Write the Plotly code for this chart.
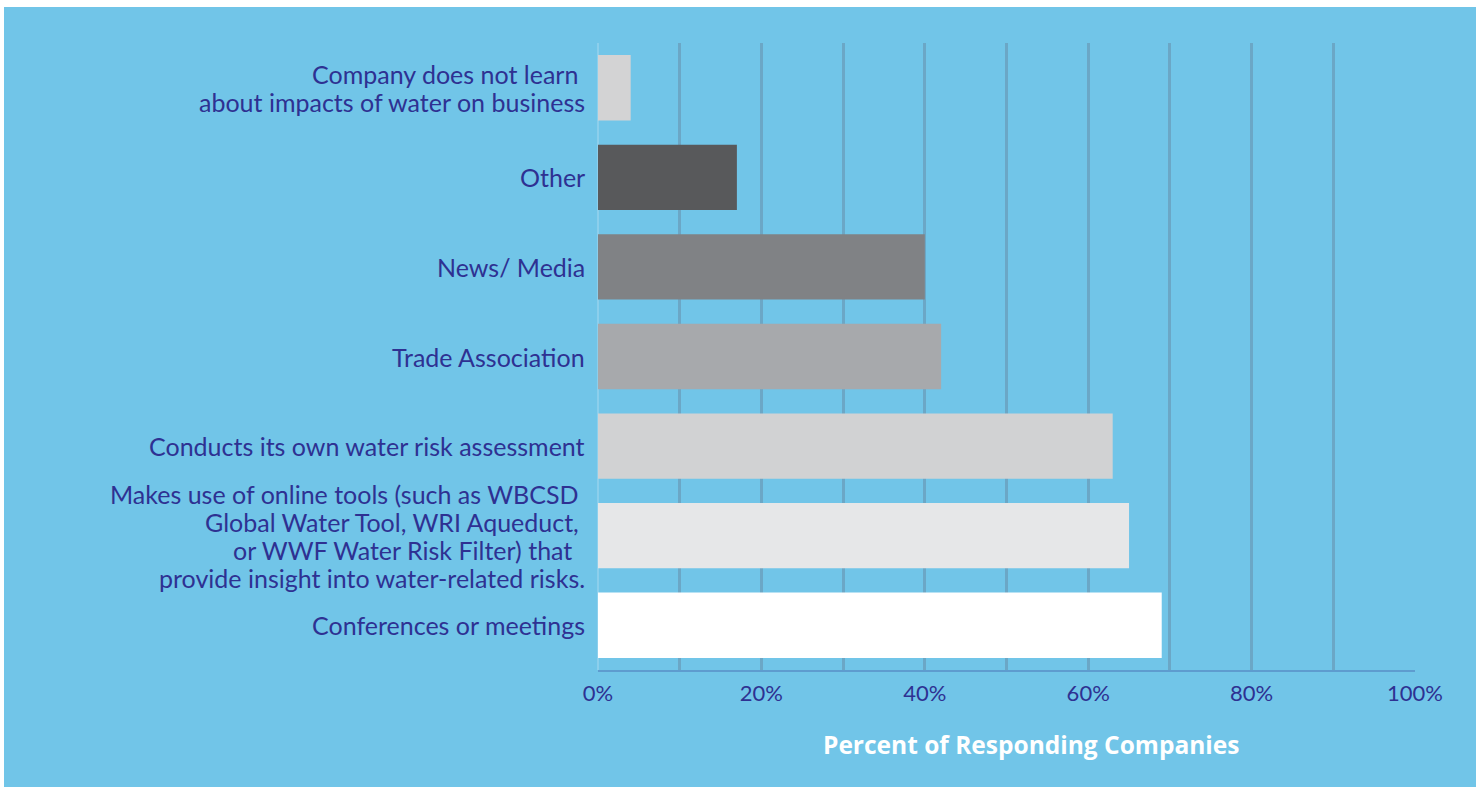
import plotly.graph_objects as go

# Survey responses: how companies learn about water impacts on their business
categories = [
    "Company does not learn",
    "Other",
    "News/ Media",
    "Trade Association",
    "Conducts its own water risk assessment",
    "Makes use of online tools",
    "Conferences or meetings",
]
# category labels as drawn, line by line
label_lines = [
    ["Company does not learn\u00a0", "about impacts of water on business"],
    ["Other"],
    ["News/ Media"],
    ["Trade Association"],
    ["Conducts its own water risk assessment"],
    ["Makes use of online tools (such as WBCSD\u00a0",
     "Global Water Tool, WRI Aqueduct,\u00a0",
     "or WWF Water Risk Filter) that\u00a0\u00a0",
     "provide insight into water-related risks."],
    ["Conferences or meetings"],
]
percent = [4, 17, 40, 42, 63, 65, 69]
bar_colors = ["#D3D3D4", "#58595B", "#808285", "#A7A9AC", "#D1D2D3", "#E6E7E8", "#FFFFFF"]

tick_values = [0, 10, 20, 30, 40, 50, 60, 70, 80, 90, 100]
tick_labels = ["0%", "", "20%", "", "40%", "", "60%", "", "80%", "", "100%"]

W, H = 1481, 787
L, R, T, B = 598, 66, 43, 117
pw, ph = W - L - R, H - T - B

BLUE = "#71C5E8"
NAVY = "#2E3192"
LABEL_SIZE = 25
LINE_GAP = 28

fig = go.Figure(
    go.Bar(
        x=percent,
        y=categories,
        orientation="h",
        marker=dict(color=bar_colors, line=dict(width=0)),
        width=0.73,
        hoverinfo="x+y",
    )
)

# blue panel behind the chart with a thin white border around the page
fig.add_shape(
    type="rect", xref="paper", yref="paper", layer="below",
    x0=(4 - L) / pw, x1=(1476 - L) / pw,
    y0=(H - B - 790) / ph, y1=(H - B - 7) / ph,
    fillcolor=BLUE, line=dict(width=0),
)

# right-aligned category labels, one annotation per line
for cat, lines in zip(categories, label_lines):
    n = len(lines)
    for i, line in enumerate(lines):
        fig.add_annotation(
            text=line, xref="paper", yref="y",
            x=0, y=cat, xanchor="right", yanchor="middle",
            xshift=-11, yshift=((n - 1) / 2 - i) * LINE_GAP,
            showarrow=False,
            font=dict(family="Lato", size=LABEL_SIZE, color=NAVY),
        )

fig.add_annotation(
    text="<b>Percent of Responding Companies</b>",
    xref="paper", yref="paper",
    x=(1031 - L) / pw, y=(H - B - 744) / ph,
    xanchor="center", yanchor="middle", showarrow=False,
    font=dict(family="Open Sans", size=24.5, color="white"),
)

fig.update_layout(
    width=W, height=H,
    margin=dict(l=L, r=R, t=T, b=B, pad=0),
    paper_bgcolor="white",
    plot_bgcolor="rgba(0,0,0,0)",
    showlegend=False,
    font=dict(family="Lato", color=NAVY),
    xaxis=dict(
        range=[0, 100],
        tickvals=tick_values,
        ticktext=tick_labels,
        showgrid=True, gridcolor="#6BA7C6", gridwidth=3,
        zeroline=True, zerolinecolor="#8CCFEC", zerolinewidth=2,
        showline=True, linecolor="#5E9CCF", linewidth=2,
        ticks="", tickfont=dict(family="Lato", size=22, color=NAVY),
        ticklabelstandoff=3,
        fixedrange=True,
    ),
    yaxis=dict(
        autorange="reversed",
        showticklabels=False,
        showgrid=False, zeroline=False, showline=False,
        ticks="",
        fixedrange=True,
    ),
)

fig.write_html("out.html")
